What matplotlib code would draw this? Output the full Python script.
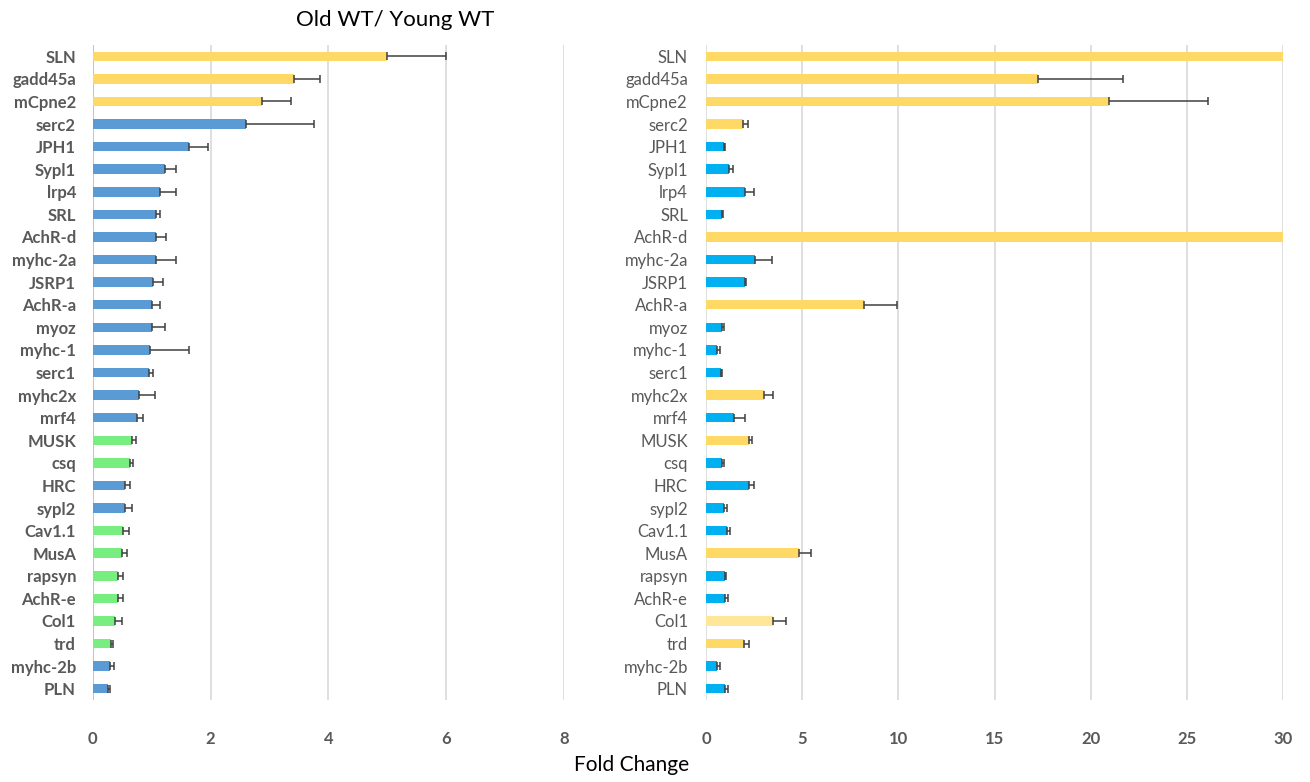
import numpy as np
import matplotlib
matplotlib.use("Agg")
import matplotlib.pyplot as plt

# genes, top to bottom
genes = ["SLN", "gadd45a", "mCpne2", "serc2", "JPH1", "Sypl1", "lrp4", "SRL",
         "AchR-d", "myhc-2a", "JSRP1", "AchR-a", "myoz", "myhc-1", "serc1",
         "myhc2x", "mrf4", "MUSK", "csq", "HRC", "sypl2", "Cav1.1", "MusA",
         "rapsyn", "AchR-e", "Col1", "trd", "myhc-2b", "PLN"]

# left panel: Old WT / Young WT
left_vals = [5.0, 3.42, 2.88, 2.61, 1.64, 1.22, 1.15, 1.08, 1.08, 1.07, 1.03,
             1.01, 1.0, 0.97, 0.95, 0.79, 0.76, 0.66, 0.63, 0.54, 0.54, 0.51,
             0.49, 0.43, 0.43, 0.38, 0.31, 0.30, 0.26]
left_err = [1.0, 0.44, 0.48, 1.15, 0.31, 0.19, 0.27, 0.07, 0.16, 0.35, 0.17,
            0.13, 0.22, 0.67, 0.08, 0.26, 0.09, 0.08, 0.06, 0.10, 0.12, 0.10,
            0.10, 0.08, 0.08, 0.12, 0.04, 0.07, 0.03]
left_grp = ["up", "up", "up", "b", "b", "b", "b", "b", "b", "b", "b", "b", "b",
            "b", "b", "b", "b", "g", "g", "b", "b", "g", "g", "g", "g", "g",
            "g", "b", "b"]

# right panel (SLN and AchR-d run off the axis, no error shown)
right_vals = [30.0, 17.26, 20.93, 1.90, 0.92, 1.20, 2.02, 0.85, 30.0, 2.56,
              2.02, 8.23, 0.85, 0.56, 0.78, 3.03, 1.48, 2.21, 0.82, 2.21,
              0.96, 1.08, 4.84, 0.99, 0.99, 3.46, 2.00, 0.59, 0.99]
right_err = [0.0, 4.44, 5.17, 0.29, 0.09, 0.19, 0.47, 0.04, 0.0, 0.85,
             0.05, 1.72, 0.11, 0.19, 0.04, 0.43, 0.54, 0.16, 0.10, 0.28,
             0.14, 0.19, 0.61, 0.07, 0.14, 0.70, 0.23, 0.16, 0.14]
right_grp = ["up", "up", "up", "up", "c", "c", "c", "c", "up", "c", "c", "up",
             "c", "c", "c", "up", "c", "up", "c", "c", "c", "c", "up", "c",
             "c", "lt", "up", "c", "c"]

colors = {"up": "#FFD966", "b": "#5B9BD5", "g": "#77EE7F", "c": "#00B0F0",
          "lt": "#FFE699"}

fig = plt.figure(figsize=(13.1, 7.82), dpi=100)
ax1 = fig.add_axes([92.7 / 1310, 1 - 700 / 782, (564 - 92.7) / 1310, 655 / 782])
ax2 = fig.add_axes([706 / 1310, 1 - 700 / 782, (1283 - 706) / 1310, 655 / 782])

y = np.arange(len(genes))


def draw(ax, vals, errs, grp, xmax, step, bold, pad):
    cols = [colors[g] for g in grp]
    ax.barh(y, vals, height=0.42, color=cols, zorder=3)
    vals = np.array(vals)
    errs = np.array(errs)
    m = errs > 0
    ax.errorbar(vals[m], y[m], xerr=[np.zeros(m.sum()), errs[m]], fmt="none",
                ecolor="#404040", elinewidth=1.1, capsize=3, capthick=1.1, zorder=4)
    ax.set_xlim(0, xmax)
    ax.set_ylim(len(genes) - 0.5, -0.5)
    ax.set_xticks(np.arange(0, xmax + 0.01, step))
    ax.set_yticks(y)
    ax.set_yticklabels(genes, fontsize=12, color="#595959",
                       fontweight="bold" if bold else "normal", family="Lato")
    for lab in ax.get_xticklabels():
        lab.set_fontweight("bold")
        lab.set_family("Lato")
    ax.tick_params(axis="x", length=0, pad=22, labelsize=12, labelcolor="#595959")
    ax.tick_params(axis="y", length=0, pad=pad)
    ax.grid(axis="x", color="#D9D9D9", linewidth=1.2, zorder=0)
    for s in ax.spines.values():
        s.set_visible(False)


draw(ax1, left_vals, left_err, left_grp, 8, 2, True, 12)
draw(ax2, right_vals, right_err, right_grp, 30, 5, False, 13)
ax1.axvline(0, color="#BFBFBF", linewidth=1.2, zorder=2)

fig.text(395 / 1310, 1 - 20 / 782, "Old WT/ Young WT", ha="center", va="center",
         fontsize=16, family="Lato")
fig.text(632 / 1310, 1 - 765 / 782, "Fold Change", ha="center", va="center",
         fontsize=15, family="Lato")

fig.savefig("out.png", dpi=100)
